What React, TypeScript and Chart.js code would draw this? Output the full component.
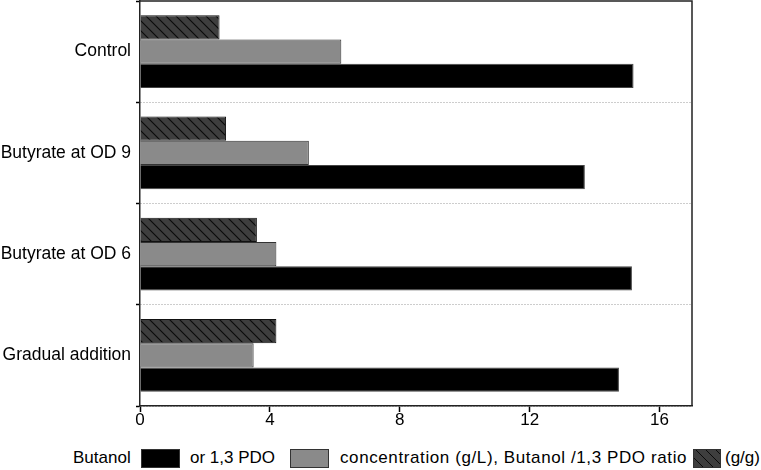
import React, { useEffect, useRef } from "react";
import { Chart, registerables } from "chart.js";

Chart.register(...registerables);

const categories = ["Control", "Butyrate at OD 9", "Butyrate at OD 6", "Gradual addition"];
const butanol = [15.2, 13.7, 15.15, 14.75];
const pdo = [6.2, 5.2, 4.2, 3.5];
const ratio = [2.45, 2.65, 3.6, 4.2];
const xTickValues = [0, 4, 8, 12, 16];
const xMax = 17;

const FONT = "Arial, 'Liberation Sans', sans-serif";

function makeHatch(): CanvasPattern | string {
  const c = document.createElement("canvas");
  c.width = 10;
  c.height = 10;
  const g = c.getContext("2d");
  if (!g) return "#3c3c3c";
  g.fillStyle = "#3e3e3e";
  g.fillRect(0, 0, 10, 10);
  g.strokeStyle = "#0a0a0a";
  g.lineWidth = 1.1;
  g.beginPath();
  g.moveTo(-1, -1);
  g.lineTo(11, 11);
  g.moveTo(9, -1);
  g.lineTo(11, 1);
  g.moveTo(-1, 9);
  g.lineTo(1, 11);
  g.stroke();
  const p = g.createPattern(c, "repeat");
  return p || "#3c3c3c";
}

const framePlugin = {
  id: "frame",
  afterDraw(chart: any) {
    const { ctx, chartArea } = chart;
    const { left, top, right, bottom } = chartArea;
    ctx.save();
    ctx.strokeStyle = "#222";
    ctx.lineWidth = 1.5;
    ctx.beginPath();
    ctx.moveTo(left, top);
    ctx.lineTo(right, top);
    ctx.lineTo(right, bottom);
    ctx.stroke();
    ctx.restore();
  },
};

export default function App() {
  const ref = useRef<HTMLCanvasElement>(null);

  useEffect(() => {
    document.body.style.margin = "0";
    const canvas = ref.current;
    if (!canvas) return;
    const hatch = makeHatch();
    const chart = new Chart(canvas, {
      type: "bar",
      data: {
        labels: categories,
        datasets: [
          {
            label: "Butanol /1,3 PDO ratio (g/g)",
            data: ratio,
            backgroundColor: hatch as any,
            borderColor: "#111",
            borderWidth: 1,
          },
          {
            label: "1,3 PDO concentration (g/L)",
            data: pdo,
            backgroundColor: "#8a8a8a",
            borderColor: "#333",
            borderWidth: 1,
          },
          {
            label: "Butanol concentration (g/L)",
            data: butanol,
            backgroundColor: "#000",
            borderColor: "#444",
            borderWidth: 1,
          },
        ],
      },
      options: {
        indexAxis: "y",
        responsive: false,
        animation: false,
        layout: { padding: { top: 1, right: 69, left: 0, bottom: 0 } },
        datasets: {
          bar: { categoryPercentage: 0.72, barPercentage: 1.0 },
        },
        plugins: {
          legend: { display: false },
          tooltip: { enabled: false },
          title: { display: false },
        },
        scales: {
          x: {
            type: "linear",
            min: 0,
            max: xMax,
            afterBuildTicks: (scale: any) => {
              scale.ticks = xTickValues.map((v) => ({ value: v }));
            },
            afterFit: (scale: any) => {
              scale.height = 34;
              scale.paddingLeft = 0;
              scale.paddingRight = 0;
            },
            ticks: {
              color: "#000",
              padding: 0,
              font: { family: FONT, size: 17, lineHeight: 1 },
              maxRotation: 0,
            },
            grid: {
              drawOnChartArea: false,
              drawTicks: true,
              tickLength: 6,
              tickColor: "#000",
              tickWidth: 1.5,
            },
            border: { display: true, color: "#222", width: 1.5 },
          },
          y: {
            type: "category",
            offset: true,
            afterFit: (scale: any) => {
              scale.width = 140;
              scale.paddingTop = 0;
              scale.paddingBottom = 0;
            },
            ticks: {
              color: "#000",
              padding: 5,
              font: { family: FONT, size: 17.5 },
            },
            grid: {
              offset: true,
              drawOnChartArea: true,
              drawTicks: true,
              tickLength: 4,
              tickColor: "#000",
              tickWidth: 1.5,
              tickBorderDash: [],
              lineWidth: 1,
              color: (ctx: any) =>
                ctx.index === 0 || ctx.index === categories.length ? "rgba(0,0,0,0)" : "#9a9a9a",
            },
            border: { display: true, color: "#222", width: 1.5, dash: [1, 2] },
          },
        },
      },
      plugins: [framePlugin],
    } as any);
    return () => chart.destroy();
  }, []);

  const textStyle: React.CSSProperties = {
    position: "absolute",
    top: 448,
    lineHeight: "20px",
    fontFamily: FONT,
    fontSize: 17,
    color: "#000",
    whiteSpace: "nowrap",
  };
  const boxStyle: React.CSSProperties = {
    position: "absolute",
    top: 449,
    height: 17,
    border: "1px solid #333",
  };

  return (
    <div style={{ position: "relative", width: 761, height: 470, overflow: "hidden", background: "#fff" }}>
      <canvas ref={ref} width={761} height={440} style={{ display: "block" }} />
      <span style={{ ...textStyle, left: 73 }}>Butanol</span>
      <div style={{ ...boxStyle, left: 141, width: 37, background: "#000" }} />
      <span style={{ ...textStyle, left: 190 }}>or 1,3 PDO</span>
      <div style={{ ...boxStyle, left: 290, width: 37, background: "#8a8a8a" }} />
      <span style={{ ...textStyle, left: 340, letterSpacing: "0.6px" }}>
        concentration (g/L), Butanol /1,3 PDO ratio
      </span>
      <div
        style={{
          ...boxStyle,
          left: 693,
          width: 26,
          background: "repeating-linear-gradient(45deg, #3e3e3e 0px, #3e3e3e 6px, #0a0a0a 6px, #0a0a0a 7px)",
        }}
      />
      <span style={{ ...textStyle, left: 725 }}>(g/g)</span>
    </div>
  );
}
